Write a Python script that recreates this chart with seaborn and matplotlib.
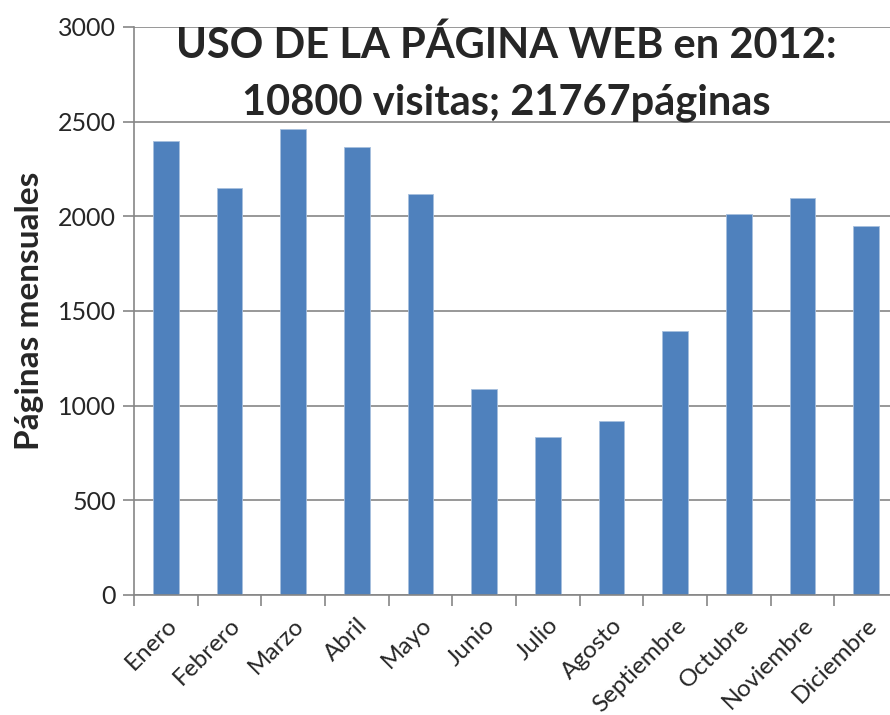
import seaborn as sns
import matplotlib.pyplot as plt
import pandas as pd

# monthly page views 2012
meses = ["Enero", "Febrero", "Marzo", "Abril", "Mayo", "Junio", "Julio",
         "Agosto", "Septiembre", "Octubre", "Noviembre", "Diciembre"]
paginas = [2400, 2148, 2460, 2368, 2118, 1088, 833, 919, 1395, 2013, 2097, 1951]

df = pd.DataFrame({"mes": meses, "paginas": paginas})

sns.set_style("white")
plt.rcParams['font.family'] = ['Lato', 'DejaVu Sans']

fig = plt.figure(figsize=(8.9, 7.15), dpi=100)
ax = fig.add_axes([134 / 890, 1 - 595 / 715, (898 - 134) / 890, (595 - 27) / 715])

sns.barplot(x="mes", y="paginas", data=df, ax=ax, color="#4F81BD",
            width=0.4, saturation=1, edgecolor="#A7BFDE", linewidth=0.6)

# axes / grid
ax.set_ylim(0, 3000)
ax.set_xlim(-0.5, 11.5)
ax.set_yticks(range(0, 3001, 500))
ax.yaxis.grid(True, color="#868686", linewidth=1.2)
ax.set_axisbelow(True)
for s in ["top", "right"]:
    ax.spines[s].set_visible(False)
for s in ["left", "bottom"]:
    ax.spines[s].set_color("#868686")
    ax.spines[s].set_linewidth(1.2)

ax.tick_params(axis="y", left=True, length=8, color="#868686", width=1.2,
               labelsize=18, pad=5)
ax.set_xticks(range(12))
ax.set_xticks([i - 0.5 for i in range(13)], minor=True)
ax.tick_params(axis="x", which="major", length=0, pad=14)
ax.tick_params(axis="x", which="minor", bottom=True, length=8,
               color="#868686", width=1.2)
ax.set_xticklabels(meses, rotation=45, ha="right", rotation_mode="anchor",
                   fontsize=17.5)

ax.set_xlabel("")
ax.set_ylabel("Páginas mensuales", fontsize=24, fontweight="bold", labelpad=10)

# title over the plot area
fig.text(506 / 890, 1 - 45 / 715, "USO DE LA PÁGINA WEB en 2012:",
         ha="center", va="center", fontsize=30, fontweight="bold")
fig.text(506 / 890, 1 - 103 / 715, "10800 visitas; 21767páginas",
         ha="center", va="center", fontsize=30, fontweight="bold")

fig.savefig("out.png", dpi=100)
